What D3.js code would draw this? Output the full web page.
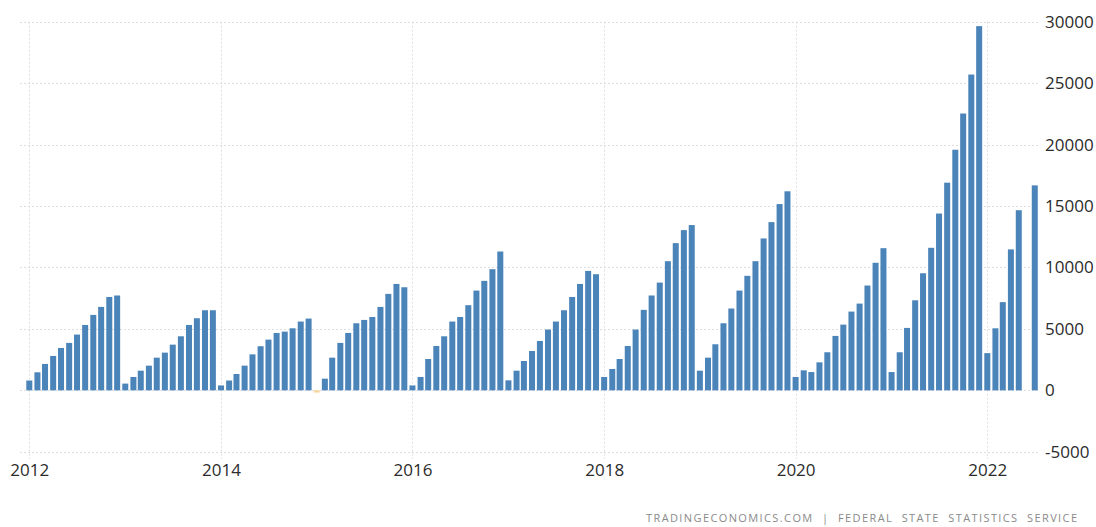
<!DOCTYPE html>
<html>
<head>
<meta charset="utf-8">
<script src="https://cdn.jsdelivr.net/npm/d3@7"></script>
<style>
  body { margin: 0; background: #fff; }
  svg { display: block; }
</style>
</head>
<body>
<div id="chart-area"></div>
<script>
// monthly values, Jan..Dec, one array per year
const v2012 = [800, 1470, 2150, 2800, 3450, 3860, 4540, 5320, 6140, 6790, 7600, 7720]
const v2013 = [550, 1090, 1600, 2010, 2660, 3070, 3720, 4400, 5320, 5870, 6520, 6520]
const v2014 = [400, 800, 1330, 2010, 2930, 3590, 4130, 4670, 4780, 5050, 5600, 5840]
const v2015 = [-180, 950, 2660, 3860, 4670, 5460, 5730, 5970, 6790, 7850, 8660, 8390]
const v2016 = [400, 1090, 2550, 3610, 4400, 5600, 5970, 6930, 8120, 8910, 9860, 11300]
const v2017 = [815, 1600, 2390, 3200, 4020, 4950, 5600, 6520, 7600, 8660, 9720, 9450]
const v2018 = [1090, 1740, 2550, 3610, 4950, 6550, 7720, 8770, 10510, 11980, 13040, 13450]
const v2019 = [1600, 2660, 3750, 5460, 6660, 8120, 9320, 10510, 12360, 13690, 15160, 16200]
const v2020 = [1090, 1630, 1490, 2280, 3100, 4430, 5350, 6410, 7060, 8530, 10380, 11570]
const v2021 = [1490, 3100, 5080, 7330, 9530, 11600, 14390, 16900, 19580, 22530, 25700, 29640]
const v2022 = [3030, 5050, 7180, 11470, 14660, null, 16680]

const years = [2012, 2013, 2014, 2015, 2016, 2017, 2018, 2019, 2020, 2021, 2022]
const yearValues = [v2012, v2013, v2014, v2015, v2016, v2017, v2018, v2019, v2020, v2021, v2022]

const xTickYears = [2012, 2014, 2016, 2018, 2020, 2022]
const yTicks = [-5000, 0, 5000, 10000, 15000, 20000, 25000, 30000]
const sourceText = "TRADINGECONOMICS.COM  |  FEDERAL  STATE  STATISTICS  SERVICE"

const WIDTH = 1096
const HEIGHT = 527

// flatten into monthly records
const data = []
years.forEach((yr, i) => {
	yearValues[i].forEach((v, m) => {
		if (v != null) data.push({ date: new Date(yr, m, 1), value: v })
	})
})

const svg = d3.select("#chart-area").append("svg")
	.attr("width", WIDTH)
	.attr("height", HEIGHT)

// scales
const x = d3.scaleTime()
	.domain([new Date(2012, 0, 1), new Date(2022, 0, 1)])
	.range([29.3, 987.3])
const y = d3.scaleLinear()
	.domain([-5000, 30000])
	.range([451.8, 21.7])

const gridColor = "#dedede"

// horizontal grid
svg.append("g")
	.selectAll("line")
	.data(yTicks)
	.join("line")
	.attr("x1", 20)
	.attr("x2", 1040)
	.attr("y1", d => Math.round(y(d)) + 0.5)
	.attr("y2", d => Math.round(y(d)) + 0.5)
	.attr("stroke", gridColor)
	.attr("stroke-dasharray", "2,2")

// vertical grid
svg.append("g")
	.selectAll("line")
	.data(xTickYears)
	.join("line")
	.attr("x1", d => Math.round(x(new Date(d, 0, 1))) + 0.5)
	.attr("x2", d => Math.round(x(new Date(d, 0, 1))) + 0.5)
	.attr("y1", 21.7)
	.attr("y2", 459)
	.attr("stroke", gridColor)
	.attr("stroke-dasharray", "2,2")

// bars
const barW = 6
svg.append("g")
	.selectAll("rect")
	.data(data)
	.join("rect")
	.attr("x", d => x(d.date) - barW / 2)
	.attr("width", barW)
	.attr("y", d => Math.min(y(d.value), y(0)))
	.attr("height", d => Math.abs(y(d.value) - y(0)))
	.attr("fill", d => d.value < 0 ? "#f6d59a" : "#4a84b9")

// y axis on the right (plain hyphen for negatives, as in the original)
const yAxis = svg.append("g")
	.attr("transform", "translate(1045, 0)")
	.call(d3.axisRight(y).tickValues(yTicks).tickSize(0).tickPadding(0).tickFormat(d => String(d)))
yAxis.select(".domain").remove()
yAxis.selectAll("text")
	.attr("font-family", "'Open Sans', sans-serif")
	.attr("font-size", 17)
	.attr("fill", "#2b2b2b")

// x axis
const xAxis = svg.append("g")
	.attr("transform", "translate(0, 461)")
	.call(d3.axisBottom(x)
		.tickValues(xTickYears.map(d => new Date(d, 0, 1)))
		.tickSize(0)
		.tickPadding(3)
		.tickFormat(d3.timeFormat("%Y")))
xAxis.select(".domain").remove()
xAxis.selectAll("text")
	.attr("font-family", "'Open Sans', sans-serif")
	.attr("font-size", 17)
	.attr("fill", "#2b2b2b")

// source line
svg.append("text")
	.attr("x", 646)
	.attr("y", 522)
	.attr("textLength", 431)
	.attr("lengthAdjust", "spacing")
	.attr("font-family", "'Open Sans', sans-serif")
	.attr("font-size", 11)
	.attr("fill", "#8a8a8a")
	.style("white-space", "pre")
	.text(sourceText)
</script>
</body>
</html>
